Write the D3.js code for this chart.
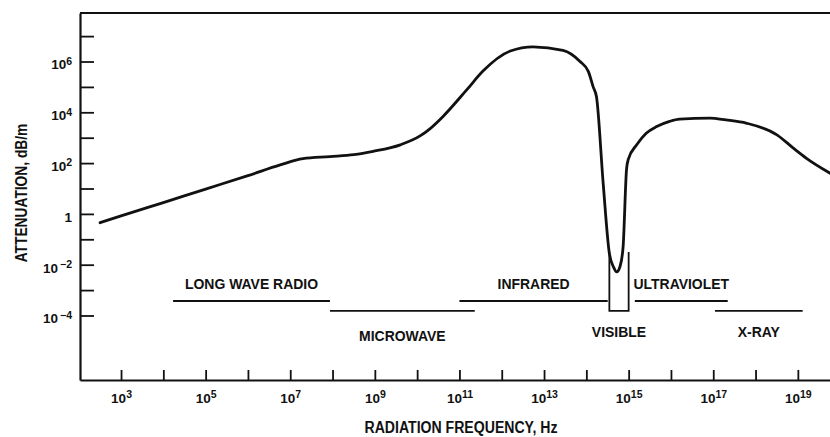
<!DOCTYPE html>
<html><head><meta charset="utf-8">
<script src="https://cdn.jsdelivr.net/npm/d3@7"></script>
<style>body{margin:0;background:#fff}svg{display:block}</style>
</head><body>
<svg id="chart" width="830" height="437"></svg>
<script>
// ---------- DATA ----------
// Attenuation curve (frequency in Hz, attenuation in dB/m)
const frequency = [3.2e2, 1e3, 1e4, 1e5, 1e6, 5.8e6, 2e7, 8.7e7, 3.2e8, 9.1e8, 4e9, 1.2e10, 2e10, 4.1e10,
  1.5e11, 3.6e11, 1.6e12, 5.5e12, 2.8e13, 7.1e13, 1.12e14, 1.45e14, 1.74e14, 2.5e14, 3.5e14, 4.4e14,
  5.2e14, 6.3e14, 7.4e14, 8.9e14, 9.8e14, 1.55e15, 2.6e15, 4.6e15, 9.3e15, 1.6e16, 8.3e16, 2e17,
  6.2e17, 3.2e18, 7.8e18, 1.6e19, 5.8e19];
const attenuation = [0.45, 0.83, 2.8, 9.5, 32, 85, 150, 180, 215, 290, 525, 1200, 2240, 6900,
  7.8e4, 4.2e5, 2.6e6, 3.8e6, 2.75e6, 1e6, 4e5, 1e5, 4e4, 16, 0.028, 0.008,
  0.0052, 0.0089, 0.051, 55, 140, 525, 1500, 2750, 4400, 5400, 5900, 5000,
  3700, 1300, 390, 155, 40];

// Spectrum bands
const bandNames = ["LONG WAVE RADIO", "MICROWAVE", "INFRARED", "VISIBLE", "ULTRAVIOLET", "X-RAY"];
const bandStart = [1.7e4, 8.7e7, 1e11, 3.5e14, 1.4e15, 1.1e17];
const bandEnd   = [8.7e7, 2.3e11, 3.2e14, 1e15, 2.2e17, 1.3e19];
const bandRow   = ["upper", "lower", "upper", "box", "upper", "lower"];

// Axis ticks
const xTickValues = [1e3,1e4,1e5,1e6,1e7,1e8,1e9,1e10,1e11,1e12,1e13,1e14,1e15,1e16,1e17,1e18,1e19];
const xLabelExps  = [3,5,7,9,11,13,15,17,19];
const yTickValues = [1e-4,1e-3,1e-2,1e-1,1,1e1,1e2,1e3,1e4,1e5,1e6,1e7];
const yLabelExps  = [-4,-2,0,2,4,6];

const xTitle = "RADIATION FREQUENCY, Hz";
const yTitle = "ATTENUATION, dB/m";

// ---------- LAYOUT ----------
const svg = d3.select("#chart");
const M = { left: 80, right: 830, top: 13, bottom: 380 };
const x = d3.scaleLog().domain([Math.pow(10, 2.03), Math.pow(10, 19.76)]).range([M.left, M.right]);
const y = d3.scaleLog().domain([Math.pow(10, -6.54), Math.pow(10, 7.91)]).range([M.bottom, M.top]);

const FONT = "'Liberation Sans', Arial, Helvetica, sans-serif";
const ink = "#111";

function squeeze(sel, factor) {
  sel.each(function () {
    const w = this.getComputedTextLength();
    d3.select(this).attr("textLength", w * factor).attr("lengthAdjust", "spacingAndGlyphs");
  });
}

// top frame line
svg.append("line").attr("x1", M.left).attr("x2", M.right).attr("y1", M.top).attr("y2", M.top)
  .attr("stroke", ink).attr("stroke-width", 2.2);

// X axis
const xAxis = d3.axisBottom(x).tickValues(xTickValues).tickSizeInner(-10).tickSizeOuter(0).tickPadding(13)
  .tickFormat(() => "");
const gx = svg.append("g").attr("transform", `translate(0,${M.bottom})`).call(xAxis);
gx.select(".domain").attr("stroke", ink).attr("stroke-width", 2.2);
gx.selectAll(".tick line").attr("stroke", ink).attr("stroke-width", 1.8);
gx.selectAll(".tick text").each(function (d) {
  const e = Math.round(Math.log10(d));
  const t = d3.select(this).text(null).attr("font-family", FONT).attr("font-weight", "bold")
    .attr("font-size", 13.5).attr("fill", ink).attr("dy", "0.72em");
  if (xLabelExps.includes(e)) {
    t.append("tspan").text("10");
    t.append("tspan").attr("dy", "-0.45em").attr("font-size", 10.5).text(String(e));
  }
});

// Y axis
const yAxis = d3.axisLeft(y).tickValues(yTickValues).tickSizeInner(-14).tickSizeOuter(0).tickPadding(8)
  .tickFormat(() => "");
const gy = svg.append("g").attr("transform", `translate(${M.left},0)`).call(yAxis);
gy.select(".domain").attr("stroke", ink).attr("stroke-width", 2.2);
gy.selectAll(".tick line").attr("stroke", ink).attr("stroke-width", 1.8);
gy.selectAll(".tick text").each(function (d) {
  const e = Math.round(Math.log10(d));
  const t = d3.select(this).text(null).attr("font-family", FONT).attr("font-weight", "bold")
    .attr("font-size", 13.5).attr("fill", ink).attr("dy", "0.55em");
  if (yLabelExps.includes(e)) {
    if (e === 0) { t.append("tspan").text("1"); }
    else {
      t.append("tspan").text("10");
      t.append("tspan").attr("dy", "-0.45em").attr("font-size", 10.5)
        .text(e < 0 ? "\u2009\u2212" + Math.abs(e) : String(e));
    }
  }
});

// Curve
const pts = frequency.map((f, i) => [f, attenuation[i]]);
const line = d3.line().x(d => x(d[0])).y(d => y(d[1])).curve(d3.curveMonotoneX);
svg.append("path").datum(pts).attr("d", line).attr("fill", "none").attr("stroke", ink)
  .attr("stroke-width", 2.8).attr("stroke-linejoin", "round").attr("stroke-linecap", "round");

// Bands
const rowLineY = { upper: y(Math.pow(10, -3.43)), lower: y(Math.pow(10, -3.82)), box: y(Math.pow(10, -3.82)) };
const boxTopY = y(Math.pow(10, -1.5));
const gb = svg.append("g");
bandNames.forEach((name, i) => {
  const x0 = x(bandStart[i]), x1 = x(bandEnd[i]), row = bandRow[i];
  const ly = rowLineY[row];
  if (row === "box") {
    gb.append("path").attr("d", `M${x0},${boxTopY}V${ly}H${x1}V${boxTopY}`)
      .attr("fill", "none").attr("stroke", ink).attr("stroke-width", 1.8);
  } else {
    gb.append("line").attr("x1", x0).attr("x2", x1).attr("y1", ly).attr("y2", ly)
      .attr("stroke", ink).attr("stroke-width", 1.8);
  }
  const ty = row === "upper" ? ly - 12 : ly + 26 + (name === "MICROWAVE" ? 4 : 0);
  const t = gb.append("text").attr("x", (x0 + x1) / 2).attr("y", ty).attr("text-anchor", "middle")
    .attr("font-family", FONT).attr("font-weight", "bold").attr("font-size", 15.5).attr("fill", ink)
    .text(name);
  squeeze(t, 0.9);
});

// Axis titles
const xt = svg.append("text").attr("x", 461).attr("y", 433).attr("text-anchor", "middle")
  .attr("font-family", FONT).attr("font-weight", "bold").attr("font-size", 16).attr("fill", ink).text(xTitle);
squeeze(xt, 0.88);
const yt = svg.append("text").attr("transform", "translate(27,193) rotate(-90)").attr("text-anchor", "middle")
  .attr("font-family", FONT).attr("font-weight", "bold").attr("font-size", 16).attr("fill", ink).text(yTitle);
squeeze(yt, 0.86);
</script>
</body></html>
